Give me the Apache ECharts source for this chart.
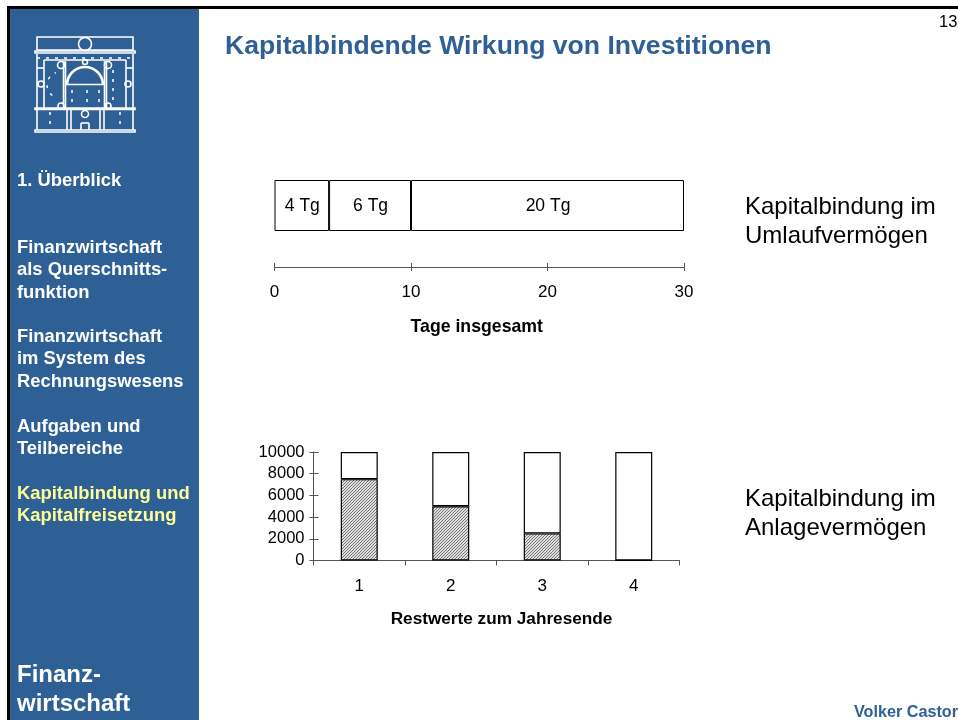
<!DOCTYPE html>
<html><head><meta charset="utf-8">
<style>html,body{margin:0;padding:0;background:#fff}#c{width:958px;height:720px}</style>
<script src="https://cdn.jsdelivr.net/npm/echarts@6/dist/echarts.min.js"></script>
</head><body><div id="c"></div>
<script>
const dayCategory = ['Tage'];
const daySegments = [4, 6, 20];
const dayLabels = ['4 Tg', '6 Tg', '20 Tg'];
const yearCategories = ['1', '2', '3', '4'];
const restValues = [7500, 5000, 2500, 0];
const writtenOff = [2500, 5000, 7500, 10000];
const navWhite = ['Finanzwirtschaft\nals Querschnitts-\nfunktion', 'Finanzwirtschaft\nim System des\nRechnungswesens', 'Aufgaben und\nTeilbereiche'];

const F = '"Liberation Sans", Arial, sans-serif';
const BLUE = '#2E6096';
const AX = '#555';

// hatch pattern
const pc = document.createElement('canvas'); pc.width = 3; pc.height = 3;
const p = pc.getContext('2d');
p.fillStyle = '#dddddd'; p.fillRect(0,0,3,3);
p.fillStyle = '#777';
p.fillRect(2,0,1,1); p.fillRect(1,1,1,1); p.fillRect(0,2,1,1);

const chart = echarts.init(document.getElementById('c'), null, {renderer:'canvas'});

const bold = (text, x, y, size, fill, lh) => ({type:'text', left:x, top:y, silent:true,
  style:{text, fill, font:`bold ${size}px ${F}`, lineHeight:lh}});
const plain = (text, x, y, size, lh) => ({type:'text', left:x, top:y, silent:true,
  style:{text, fill:'#000', font:`${size}px ${F}`, lineHeight:lh}});

const L = {stroke:'#fff', lineWidth:1.6, fill:null};
const D = {stroke:'#fff', lineWidth:1.5, fill:null, lineDash:[3,6]};
const rect = (x,y,w,h) => ({type:'rect', shape:{x,y,width:w,height:h}, style:L});
const line = (x1,y1,x2,y2) => ({type:'line', shape:{x1,y1,x2,y2}, style:L});
const dash = (x1,y1,x2,y2) => ({type:'line', shape:{x1,y1,x2,y2}, style:D});
const circ = (cx,cy,r) => ({type:'circle', shape:{cx,cy,r}, style:L});
const logo = [
  rect(37,37,96,13), rect(35,51,100,2), circ(85,44,6.5),
  dash(37,58,133,58), line(44,60,126,60), line(37,54,37,108), line(133,54,133,108),
  line(44,60,44,108), line(126,60,126,108), line(37,68,44,68), line(126,68,133,68),
  rect(63.5,62,2,46), rect(104.5,62,2,46), line(66,84.5,104,84.5),
  {type:'arc', shape:{cx:85,cy:85,r:18,startAngle:Math.PI,endAngle:2*Math.PI}, style:{stroke:'#fff',lineWidth:2.6,fill:null}},
  {type:'arc', shape:{cx:60,cy:85,r:13,startAngle:Math.PI*0.7,endAngle:Math.PI*1.4}, style:D},
  circ(61,65,3.5), circ(108,65,3.5), circ(41,84,3), circ(128,84,3), circ(61,106,3), circ(108,106,3), circ(85,62,2.5),
  rect(35,108,100,1.5), line(37,110,37,130), line(133,110,133,130), rect(35,130,100,2),
  line(67,110,67,130), line(71,110,71,130), line(100,110,100,130), line(104,110,104,130),
  circ(85,114,3.5), line(81,130,81,123), line(89,130,89,123), line(81,123,89,123),
  dash(87,90,87,108), dash(50,112,50,130), dash(120,112,120,130), dash(113,70,113,105), dash(72,90,72,108), dash(99,90,99,108)
];

chart.setOption({
  animation:false,
  backgroundColor:'#fff',
  graphic:[
    {type:'rect', shape:{x:0,y:0,width:958,height:720}, style:{fill:'#fff'}, silent:true, z:-10},
    {type:'rect', shape:{x:7,y:6,width:951,height:3}, style:{fill:'#000'}, silent:true},
    {type:'rect', shape:{x:7,y:6,width:3,height:714}, style:{fill:'#000'}, silent:true},
    {type:'rect', shape:{x:10,y:9,width:189,height:711}, style:{fill:BLUE}, silent:true},
    {type:'group', left:0, top:0, silent:true, children:logo, bounding:'raw'},
    bold('Kapitalbindende Wirkung von Investitionen', 225, 33, 26.6, BLUE),
    plain('13', 939, 14, 16.5),
    bold('1. Überblick', 17, 171.5, 18.4, '#fff'),
    bold(navWhite[0], 17, 236.5, 18.4, '#fff', 22.5),
    bold(navWhite[1], 17, 326, 18.4, '#fff', 22.2),
    bold(navWhite[2], 17, 415.5, 18.4, '#fff', 22.2),
    bold('Kapitalbindung und\nKapitalfreisetzung', 17, 482.5, 18.4, '#FFFF99', 22.2),
    bold('Finanz-\nwirtschaft', 17, 660.5, 24, '#fff', 29.5),
    plain('Kapitalbindung im\nUmlaufvermögen', 745, 193, 24, 29),
    plain('Kapitalbindung im\nAnlagevermögen', 745, 485, 24, 29),
    bold('Volker Castor', 854, 705, 16.2, BLUE)
  ],
  grid:[
    {left:274.5, width:409.5, top:144, height:123, containLabel:false},
    {left:313.5, width:366, top:452, height:108.5, containLabel:false}
  ],
  xAxis:[
    {gridIndex:0, type:'value', min:0, max:30, interval:10, position:'bottom',
     axisLine:{show:true, lineStyle:{color:AX, width:1}}, axisTick:{show:true, length:4, lineStyle:{color:AX}},
     splitLine:{show:false}, axisLabel:{color:'#000', fontFamily:F, fontSize:17, margin:17},
     name:'Tage insgesamt', nameLocation:'middle', nameGap:51,
     nameTextStyle:{color:'#000', fontFamily:F, fontSize:17.7, fontWeight:'bold', padding:[0,5,0,0]}},
    {gridIndex:0, type:'value', min:0, max:30, interval:10, position:'bottom',
     axisLine:{show:false}, axisTick:{show:true, inside:true, length:4, lineStyle:{color:AX}},
     splitLine:{show:false}, axisLabel:{show:false}},
    {gridIndex:1, type:'category', data:yearCategories, position:'bottom',
     axisLine:{show:true, lineStyle:{color:AX}}, axisTick:{show:true, length:5, alignWithLabel:false, lineStyle:{color:AX}},
     axisLabel:{color:'#000', fontFamily:F, fontSize:17, margin:17},
     name:'Restwerte zum Jahresende', nameLocation:'middle', nameGap:50,
     nameTextStyle:{color:'#000', fontFamily:F, fontSize:17.2, fontWeight:'bold', padding:[0,0,0,10]}}
  ],
  yAxis:[
    {gridIndex:0, type:'category', data:dayCategory, show:false},
    {gridIndex:1, type:'value', min:0, max:10000, interval:2000, position:'left',
     axisLine:{show:true, lineStyle:{color:AX}}, axisTick:{show:true, length:4, lineStyle:{color:AX}},
     splitLine:{show:false}, axisLabel:{color:'#000', fontFamily:F, fontSize:16.5, margin:9, formatter:v=>String(v)}},
    {gridIndex:1, type:'value', min:0, max:10000, interval:2000, position:'left',
     axisLine:{show:false}, axisTick:{show:true, inside:true, length:5, lineStyle:{color:AX}},
     splitLine:{show:false}, axisLabel:{show:false}}
  ],
  series:[
    ...daySegments.map((v,i)=>({
      type:'bar', stack:'days', xAxisIndex:0, yAxisIndex:0, data:[v], barWidth:51,
      itemStyle:{color:'#fff', borderColor:'#000', borderWidth:1},
      label:{show:true, position:'inside', formatter:dayLabels[i], color:'#000', fontFamily:F, fontSize:17.5, offset:[0.5,0.5]}
    })),
    {type:'bar', stack:'rest', xAxisIndex:2, yAxisIndex:1, data:restValues, barWidth:37,
     itemStyle:{color:{image:pc, repeat:'repeat'}, borderColor:'#000', borderWidth:1.2}},
    {type:'bar', stack:'rest', xAxisIndex:2, yAxisIndex:1, data:writtenOff, barWidth:37,
     itemStyle:{color:'#fff', borderColor:'#000', borderWidth:1.2}}
  ]
});
</script></body></html>
